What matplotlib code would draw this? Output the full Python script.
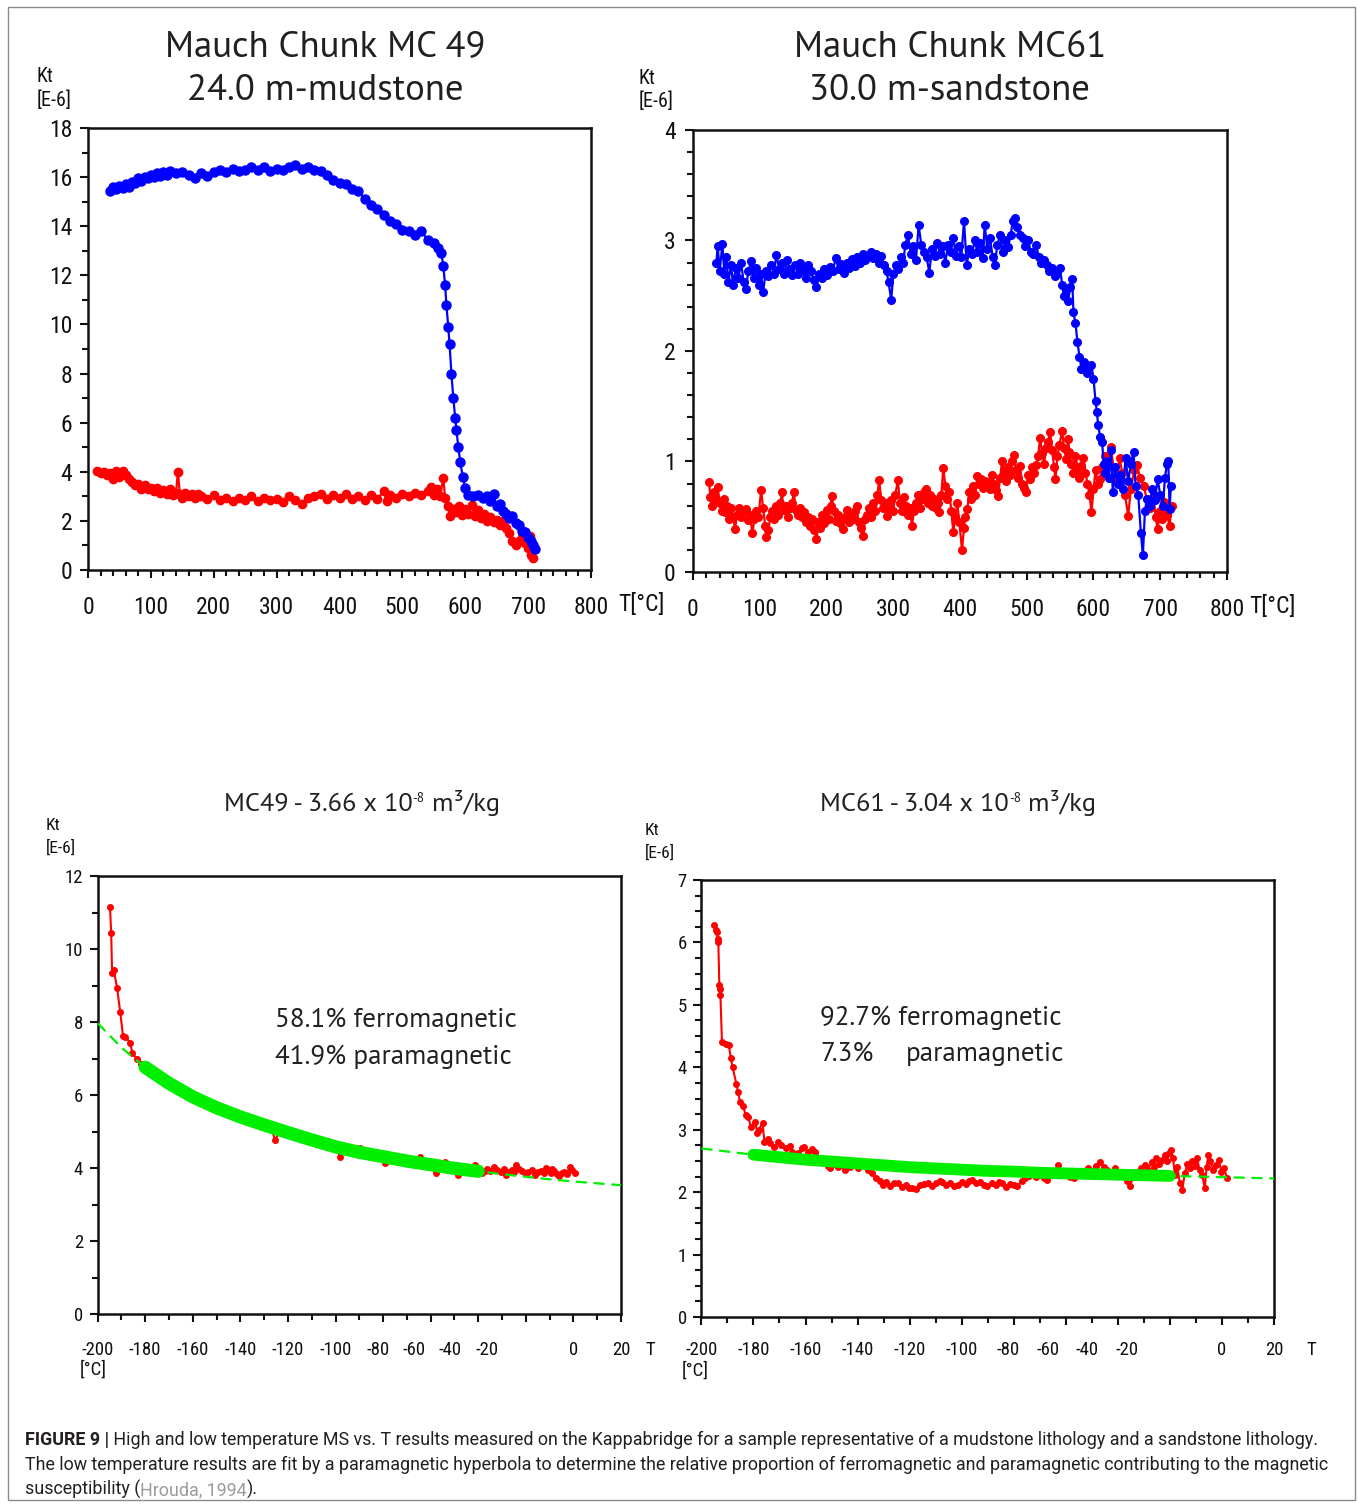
import numpy as np
import matplotlib
matplotlib.use("Agg")
import matplotlib.pyplot as plt
import matplotlib.transforms as mtransforms
from matplotlib.ticker import MultipleLocator, NullFormatter
from matplotlib.patches import Rectangle

# ---- high temperature runs (T in degC, Kt in E-6) ----
MC49_HEATING = [
    (35, 15.45), (40, 15.6), (45, 15.5), (50, 15.65), (55, 15.55), (60, 15.7), (65, 15.6), (70, 15.8),
    (75, 15.75), (80, 15.95), (85, 15.85), (90, 16.0), (95, 15.95), (100, 16.1), (105, 16.0), (110, 16.15),
    (115, 16.05), (120, 16.2), (125, 16.1), (130, 16.25), (140, 16.15), (150, 16.2), (160, 16.1), (170, 15.95),
    (180, 16.15), (190, 16.05), (200, 16.2), (210, 16.3), (220, 16.2), (230, 16.35), (240, 16.25), (250, 16.3),
    (260, 16.4), (270, 16.3), (280, 16.4), (290, 16.25), (300, 16.35), (310, 16.3), (320, 16.4), (330, 16.5),
    (340, 16.35), (350, 16.4), (360, 16.3), (370, 16.25), (380, 16.1), (390, 15.9), (400, 15.75), (410, 15.7),
    (420, 15.5), (430, 15.45), (440, 15.1), (450, 14.85), (460, 14.7), (470, 14.45), (480, 14.2), (490, 14.1),
    (500, 13.85), (510, 13.8), (520, 13.65), (530, 13.8), (540, 13.45), (550, 13.3), (556, 13.1), (562, 12.9),
    (565, 12.4), (568, 11.6), (570, 10.8), (573, 9.9), (575, 9.2), (578, 8.0), (581, 7.0), (584, 6.2),
    (586, 5.7), (589, 5.0), (592, 4.4), (596, 3.8), (600, 3.35), (605, 3.05), (612, 3.0), (620, 3.05),
    (628, 2.95), (635, 3.0), (640, 2.8), (645, 3.1), (650, 2.6), (655, 2.7), (660, 2.4), (665, 2.3),
    (670, 2.1), (675, 2.2), (680, 1.9), (685, 1.85), (690, 1.6), (695, 1.55), (700, 1.35), (705, 1.2),
    (708, 1.0), (711, 0.85),
]
MC49_COOLING = [
    (15, 4.05), (20, 3.95), (25, 4.0), (30, 3.85), (35, 3.95), (40, 3.7), (45, 4.05), (50, 3.8), (55, 4.05),
    (60, 3.85), (65, 3.7), (70, 3.6), (75, 3.45), (80, 3.5), (85, 3.3), (90, 3.45), (95, 3.3), (100, 3.35),
    (105, 3.2), (110, 3.35), (115, 3.15), (120, 3.25), (125, 3.1), (130, 3.3), (135, 3.05), (140, 3.15),
    (143, 4.0), (146, 3.1), (150, 2.95), (155, 3.15), (160, 3.0), (165, 3.1), (170, 2.95), (175, 3.1),
    (180, 3.0), (190, 2.9), (200, 3.05), (210, 2.85), (220, 2.95), (230, 2.8), (240, 2.95), (250, 2.85),
    (260, 3.0), (270, 2.8), (280, 2.95), (290, 2.85), (300, 2.9), (310, 2.75), (320, 3.0), (330, 2.85),
    (340, 2.7), (350, 2.95), (360, 3.0), (370, 3.1), (380, 2.9), (390, 3.05), (400, 2.95), (410, 3.1),
    (420, 2.9), (430, 3.0), (440, 2.85), (450, 3.05), (460, 2.9), (470, 3.2), (475, 2.8), (480, 3.05),
    (490, 2.95), (500, 3.1), (510, 3.0), (520, 3.15), (530, 3.05), (540, 3.2), (545, 3.4), (550, 3.05),
    (555, 3.3), (560, 3.0), (565, 3.75), (568, 2.95), (572, 2.6), (576, 2.2), (580, 2.5), (585, 2.35),
    (590, 2.6), (595, 2.25), (600, 2.5), (605, 2.3), (610, 2.65), (615, 2.2), (620, 2.45), (625, 2.1),
    (630, 2.3), (635, 2.0), (640, 2.15), (645, 1.95), (650, 2.05), (655, 1.85), (660, 2.0), (665, 1.7),
    (670, 1.5), (675, 1.2), (680, 1.0), (685, 1.2), (690, 1.35), (695, 1.1), (700, 0.9), (703, 1.4),
    (705, 0.6), (707, 0.5),
]
MC61_HEATING = [
    (35, 2.80), (37, 2.95), (40, 2.72), (44, 2.97), (47, 2.70), (50, 2.85), (53, 2.62), (57, 2.78),
    (60, 2.60), (64, 2.75), (68, 2.66), (72, 2.80), (76, 2.62), (79, 2.56), (83, 2.72), (87, 2.81),
    (91, 2.66), (95, 2.75), (99, 2.60), (102, 2.70), (105, 2.53), (109, 2.72), (113, 2.68), (117, 2.78),
    (121, 2.70), (125, 2.87), (129, 2.74), (133, 2.80), (137, 2.70), (141, 2.82), (145, 2.74), (149, 2.69),
    (153, 2.78), (157, 2.70), (161, 2.80), (165, 2.73), (169, 2.66), (173, 2.78), (177, 2.72), (181, 2.64),
    (185, 2.58), (189, 2.70), (193, 2.66), (197, 2.74), (201, 2.69), (205, 2.76), (209, 2.72), (214, 2.84),
    (218, 2.74), (222, 2.79), (226, 2.71), (230, 2.80), (234, 2.75), (238, 2.83), (242, 2.77), (246, 2.85),
    (250, 2.80), (254, 2.88), (258, 2.82), (262, 2.86), (266, 2.90), (270, 2.84), (274, 2.88), (278, 2.80),
    (282, 2.86), (286, 2.78), (290, 2.72), (293, 2.62), (297, 2.46), (300, 2.70), (304, 2.78), (307, 2.74),
    (311, 2.85), (315, 2.80), (318, 2.96), (322, 3.05), (326, 2.88), (330, 2.95), (334, 2.82), (338, 3.14),
    (342, 2.96), (346, 2.90), (350, 2.85), (354, 2.71), (358, 2.92), (362, 2.86), (366, 2.98), (370, 2.88),
    (374, 2.95), (378, 2.80), (382, 2.96), (386, 2.90), (390, 3.02), (394, 2.86), (398, 2.95), (402, 2.85),
    (406, 3.18), (410, 2.78), (414, 2.92), (418, 2.88), (422, 3.00), (426, 2.90), (430, 2.98), (434, 2.84),
    (437, 3.14), (441, 2.92), (445, 3.02), (449, 2.85), (452, 2.78), (456, 2.96), (460, 3.05), (464, 2.90),
    (468, 3.00), (472, 2.94), (476, 3.05), (479, 3.18), (482, 3.20), (486, 3.12), (490, 3.05), (494, 3.02),
    (498, 2.95), (502, 3.00), (506, 2.90), (510, 2.88), (514, 2.96), (518, 2.85), (522, 2.80), (526, 2.82),
    (530, 2.78), (534, 2.72), (538, 2.75), (542, 2.68), (546, 2.72), (550, 2.75), (553, 2.60), (556, 2.50),
    (559, 2.55), (562, 2.45), (565, 2.58), (568, 2.65), (570, 2.35), (573, 2.25), (576, 2.08), (579, 1.95),
    (582, 1.84), (586, 1.90), (590, 1.80), (594, 1.86), (597, 1.87), (600, 1.75), (603, 1.55), (605, 1.45),
    (607, 1.33), (610, 1.22), (613, 1.18), (615, 0.98), (617, 0.90), (620, 1.00), (623, 0.85), (626, 1.10),
    (629, 0.72), (632, 0.95), (636, 0.80), (640, 0.88), (644, 0.75), (648, 1.03), (652, 0.82), (656, 0.98),
    (660, 1.09), (663, 0.78), (667, 0.70), (671, 0.35), (674, 0.15), (677, 0.55), (680, 0.66), (684, 0.60),
    (688, 0.75), (692, 0.65), (696, 0.84), (700, 0.70), (704, 0.60), (707, 0.85), (710, 0.98), (712, 1.00),
    (714, 0.57), (716, 0.78),
]
MC61_COOLING = [
    (24, 0.81), (26, 0.68), (28, 0.60), (31, 0.72), (34, 0.66), (37, 0.77), (40, 0.62), (43, 0.55),
    (46, 0.66), (48, 0.54), (51, 0.60), (54, 0.48), (57, 0.58), (60, 0.50), (63, 0.39), (66, 0.52),
    (69, 0.58), (72, 0.50), (75, 0.55), (79, 0.57), (82, 0.47), (85, 0.52), (89, 0.35), (92, 0.48),
    (95, 0.55), (98, 0.50), (102, 0.74), (105, 0.58), (108, 0.42), (110, 0.32), (113, 0.38), (116, 0.50),
    (119, 0.55), (122, 0.48), (125, 0.60), (128, 0.52), (131, 0.62), (133, 0.72), (136, 0.56), (139, 0.60),
    (142, 0.50), (145, 0.58), (148, 0.62), (151, 0.72), (154, 0.56), (157, 0.52), (160, 0.58), (163, 0.50),
    (167, 0.54), (170, 0.45), (173, 0.50), (176, 0.42), (179, 0.48), (182, 0.38), (185, 0.30), (188, 0.45),
    (191, 0.40), (194, 0.52), (197, 0.44), (200, 0.56), (203, 0.48), (206, 0.60), (208, 0.69), (211, 0.55),
    (214, 0.46), (217, 0.52), (220, 0.44), (224, 0.39), (227, 0.50), (230, 0.56), (233, 0.45), (236, 0.52),
    (239, 0.48), (242, 0.55), (245, 0.60), (248, 0.45), (251, 0.40), (255, 0.33), (258, 0.48), (261, 0.52),
    (264, 0.58), (267, 0.50), (270, 0.62), (273, 0.55), (276, 0.70), (279, 0.83), (282, 0.65), (285, 0.58),
    (288, 0.62), (291, 0.51), (294, 0.58), (297, 0.65), (300, 0.55), (303, 0.70), (307, 0.83), (310, 0.62),
    (313, 0.55), (316, 0.68), (319, 0.60), (322, 0.52), (325, 0.58), (328, 0.42), (331, 0.55), (334, 0.62),
    (337, 0.70), (340, 0.58), (343, 0.66), (346, 0.72), (349, 0.75), (352, 0.62), (355, 0.70), (358, 0.60),
    (361, 0.66), (364, 0.58), (367, 0.62), (369, 0.54), (372, 0.70), (375, 0.94), (378, 0.78), (381, 0.66),
    (384, 0.72), (387, 0.55), (390, 0.36), (393, 0.50), (396, 0.62), (399, 0.45), (403, 0.20), (406, 0.40),
    (408, 0.50), (411, 0.57), (414, 0.72), (417, 0.66), (420, 0.78), (423, 0.70), (426, 0.87), (429, 0.80),
    (432, 0.84), (435, 0.76), (438, 0.82), (442, 0.81), (445, 0.75), (448, 0.88), (451, 0.80), (454, 0.74),
    (457, 0.69), (460, 0.85), (463, 1.00), (466, 0.90), (469, 0.82), (472, 0.95), (475, 0.88), (478, 1.00),
    (481, 1.06), (484, 0.92), (487, 0.85), (490, 0.96), (493, 0.80), (496, 0.76), (499, 0.72), (502, 0.88),
    (505, 0.84), (508, 0.95), (511, 0.90), (514, 0.97), (517, 1.05), (520, 1.21), (523, 1.08), (526, 0.98),
    (529, 1.12), (532, 1.18), (535, 1.27), (538, 1.10), (541, 0.95), (543, 0.84), (546, 1.05), (549, 1.15),
    (553, 1.28), (556, 1.12), (559, 1.02), (562, 1.20), (564, 1.09), (567, 0.98), (570, 0.90), (573, 1.05),
    (576, 0.95), (579, 0.85), (582, 0.96), (585, 1.03), (588, 0.90), (591, 0.80), (594, 0.70), (597, 0.54),
    (600, 0.75), (603, 0.92), (606, 0.80), (610, 0.84), (613, 0.95), (617, 1.05), (621, 0.98), (626, 1.13),
    (630, 0.95), (634, 0.82), (639, 1.03), (643, 0.90), (647, 0.70), (652, 0.51), (656, 0.75), (661, 0.92),
    (665, 0.97), (670, 0.85), (675, 0.78), (680, 0.66), (685, 0.58), (690, 0.70), (693, 0.50), (696, 0.39),
    (700, 0.55), (703, 0.48), (706, 0.63), (710, 0.52), (714, 0.42), (717, 0.60),
]

# ---- low temperature runs ----
MC49_LOW = [
    (-194.8, 11.16), (-194.3, 10.45), (-193.9, 9.33), (-193.2, 9.42), (-191.8, 8.93), (-190.5, 8.27),
    (-189.3, 7.62), (-188.3, 7.60), (-186.2, 7.42), (-185.4, 7.14), (-183.5, 7.00), (-181.6, 6.86),
    (-179, 6.70), (-176, 6.62), (-173, 6.45), (-170, 6.28), (-167.5, 6.22), (-165, 6.08), (-162.6, 5.98),
    (-160, 5.90), (-157.5, 5.86), (-155, 5.78), (-152.5, 5.70), (-150, 5.62), (-147.5, 5.60), (-145, 5.48),
    (-142, 5.46), (-139, 5.45), (-136, 5.30), (-132.7, 5.27), (-129.5, 5.16), (-127, 5.12), (-125.5, 4.77),
    (-123, 5.02), (-120, 4.98), (-116.8, 4.95), (-114, 4.84), (-111, 4.80), (-108, 4.72), (-105, 4.64),
    (-102, 4.55), (-99.5, 4.48), (-98, 4.31), (-96, 4.50), (-93, 4.45), (-89.5, 4.54), (-87, 4.40),
    (-84, 4.36), (-81.5, 4.30), (-79.4, 4.13), (-77, 4.25), (-74, 4.22), (-71, 4.20), (-68, 4.15),
    (-66, 4.20), (-64.3, 4.31), (-62, 4.12), (-60, 4.05), (-57.8, 3.86), (-55.5, 4.06), (-54, 4.17),
    (-51, 3.98), (-48.4, 3.81), (-46, 3.96), (-44, 3.98), (-41.2, 4.08), (-39.5, 3.92), (-38.5, 3.85),
    (-37, 3.93), (-36.2, 3.97), (-35, 3.92), (-33.3, 4.04), (-32, 3.95), (-30.5, 3.90), (-29.3, 3.96),
    (-28.3, 3.81), (-27, 3.90), (-26, 3.95), (-25, 3.88), (-24, 4.08), (-23, 3.97), (-21.5, 3.92),
    (-20.2, 3.86), (-19, 3.90), (-17.5, 3.95), (-16, 3.81), (-14.8, 3.88), (-13.5, 3.92), (-12.5, 3.85),
    (-11.7, 4.00), (-10.6, 3.94), (-9.6, 3.86), (-8.8, 3.97), (-8, 3.93), (-7, 3.84), (-6, 3.77),
    (-5, 3.86), (-3.8, 3.90), (-2.7, 3.84), (-1.6, 4.04), (-0.5, 3.95), (0.5, 3.86),
]
MC61_LOW = [
    (-195.0, 6.28), (-194.5, 6.20), (-194.1, 6.17), (-193.8, 6.05), (-193.5, 6.01), (-193.1, 5.32),
    (-192.9, 5.25), (-192.7, 5.16), (-192.1, 4.41), (-190.5, 4.38), (-189.5, 4.36), (-188.7, 4.15),
    (-188.0, 4.00), (-186.6, 3.74), (-185.9, 3.60), (-185.2, 3.45), (-184.0, 3.38), (-183.0, 3.24),
    (-182.0, 3.20), (-181.0, 3.05), (-179.4, 3.13), (-178.5, 2.95), (-177.9, 3.00), (-176.5, 3.11),
    (-175.8, 2.81), (-174.5, 2.85), (-173.6, 2.79), (-172, 2.72), (-170.5, 2.80), (-169.3, 2.76),
    (-167.5, 2.70), (-166, 2.74), (-165.0, 2.65), (-163, 2.62), (-161.5, 2.70), (-160.6, 2.73),
    (-159, 2.64), (-157.5, 2.69), (-156.2, 2.65), (-154.5, 2.55), (-153, 2.48), (-151.5, 2.42),
    (-150.7, 2.38), (-149, 2.45), (-147.5, 2.40), (-146, 2.43), (-145.0, 2.36), (-143, 2.41),
    (-141.5, 2.46), (-140, 2.39), (-138.5, 2.44), (-137.6, 2.49), (-136, 2.36), (-134.5, 2.30),
    (-133, 2.22), (-131.5, 2.18), (-130.4, 2.12), (-129, 2.16), (-127.5, 2.10), (-126, 2.14),
    (-124.6, 2.15), (-123, 2.09), (-121.5, 2.12), (-120.2, 2.06), (-118.9, 2.07), (-117.5, 2.05),
    (-116, 2.11), (-114.5, 2.13), (-113.1, 2.15), (-111.5, 2.10), (-110, 2.14), (-108.5, 2.18),
    (-107.4, 2.17), (-106, 2.12), (-104.5, 2.15), (-103, 2.10), (-101.6, 2.12), (-100, 2.17),
    (-98.5, 2.13), (-97, 2.18), (-95.9, 2.20), (-94.5, 2.14), (-93, 2.16), (-91.5, 2.12),
    (-90.1, 2.10), (-88.5, 2.15), (-87, 2.11), (-85.5, 2.17), (-84.4, 2.15), (-83, 2.09),
    (-81.5, 2.13), (-80, 2.12), (-78.6, 2.10), (-77, 2.18), (-75.5, 2.22), (-74, 2.26),
    (-72.8, 2.30), (-71.5, 2.24), (-70, 2.27), (-68.5, 2.22), (-67.1, 2.20), (-65.5, 2.30),
    (-64, 2.34), (-62.8, 2.44), (-61.5, 2.32), (-60, 2.28), (-58.5, 2.25), (-57.0, 2.22),
    (-55.5, 2.30), (-54, 2.34), (-52.5, 2.31), (-51.3, 2.38), (-50, 2.34), (-48.5, 2.42),
    (-47.0, 2.49), (-45.5, 2.40), (-44, 2.36), (-42.6, 2.33), (-41, 2.38), (-39.5, 2.30),
    (-38, 2.26), (-36.5, 2.18), (-35.4, 2.10), (-34, 2.24), (-32.5, 2.32), (-31, 2.38),
    (-29.7, 2.44), (-28.5, 2.36), (-27, 2.48), (-26, 2.40), (-25.3, 2.54), (-24, 2.45),
    (-23, 2.52), (-22, 2.60), (-21, 2.50), (-20.3, 2.62), (-19.6, 2.68), (-18.8, 2.55),
    (-18.1, 2.28), (-17.2, 2.40), (-16.2, 2.15), (-15.2, 2.04), (-14.3, 2.30), (-13.3, 2.45),
    (-12.4, 2.38), (-11.4, 2.50), (-10.4, 2.42), (-9.5, 2.54), (-8.6, 2.35), (-7.6, 2.28),
    (-6.6, 2.06), (-5.9, 2.40), (-5.2, 2.60), (-4.4, 2.50), (-3.3, 2.35), (-2.3, 2.44),
    (-1.3, 2.52), (-0.2, 2.33), (0.8, 2.38), (2.0, 2.22),
]

# paramagnetic hyperbola fits
MC49_FIT = [
    (-200, 7.97), (-190, 7.30), (-180, 6.76), (-170, 6.32), (-160, 5.95), (-150, 5.65), (-140, 5.40),
    (-130, 5.18), (-120, 4.97), (-110, 4.77), (-100, 4.58), (-90, 4.43), (-80, 4.31), (-70, 4.19),
    (-60, 4.09), (-50, 3.99), (-40, 3.91), (-30, 3.83), (-20, 3.76), (-10, 3.69), (0, 3.63), (10, 3.58),
    (20, 3.53),
]
MC61_FIT = [
    (-200, 2.70), (-190, 2.65), (-180, 2.60), (-170, 2.56), (-160, 2.52), (-150, 2.49), (-140, 2.46),
    (-130, 2.43), (-120, 2.40), (-110, 2.38), (-100, 2.36), (-90, 2.34), (-80, 2.33), (-70, 2.31),
    (-60, 2.30), (-50, 2.29), (-40, 2.28), (-30, 2.27), (-20, 2.26), (-10, 2.25), (0, 2.24), (10, 2.23),
    (20, 2.22),
]
MC49_FIT_RANGE = (-182, -38)
MC61_FIT_RANGE = (-182, -17)

LOW_TICK_TEXT = ["-200", "-180", "-160", "-140", "-120", "-100", "-80", "-60", "-40", "-20", "0", "20"]
LOW_TICK_TEXT_AT = [-200, -180, -160, -140, -120, -100, -82, -67, -52, -36.5, 0, 20]

RED, BLUE, GREEN = "#ff0000", "#0000ff", "#00ee00"
INK = "#231f20"
TITLE_FONT = ["PT Sans", "DejaVu Sans"]

plt.rcParams["font.family"] = ["Roboto Condensed", "DejaVu Sans"]
plt.rcParams["text.color"] = INK

W, H = 1358, 1504
fig = plt.figure(figsize=(W / 100, H / 100), dpi=100)
renderer = fig.canvas.get_renderer()


def fx(x):
    return x / W


def fy(y):
    return 1 - y / H


def panel(left, top, right, bottom):
    return fig.add_axes([fx(left), fy(bottom), (right - left) / W, (bottom - top) / H])


def frame(ax, xlim, ylim, xmaj, xmin, ymaj, ymin, size, xpad, ypad):
    ax.set_xlim(*xlim)
    ax.set_ylim(*ylim)
    ax.xaxis.set_major_locator(MultipleLocator(xmaj))
    ax.xaxis.set_minor_locator(MultipleLocator(xmin))
    ax.yaxis.set_major_locator(MultipleLocator(ymaj))
    ax.yaxis.set_minor_locator(MultipleLocator(ymin))
    for sp in ax.spines.values():
        sp.set_linewidth(1.8)
        sp.set_color("#111111")
    ax.tick_params(which="both", direction="out", width=1.5, color="#111111",
                   top=False, right=False, labelsize=size, labelcolor="#111111")
    ax.tick_params(which="major", length=6)
    ax.tick_params(which="minor", length=4.5)
    ax.tick_params(axis="x", pad=xpad)
    ax.tick_params(axis="y", pad=ypad)


def unit_label(x, y, size):
    fig.text(fx(x), fy(y), "Kt", fontsize=size, ha="left", va="center", color="#111111")
    fig.text(fx(x), fy(y + 23), "[E-6]", fontsize=size, ha="left", va="center", color="#111111")


def series(ax, pairs, color, lw, ms):
    arr = np.array(pairs)
    ax.plot(arr[:, 0], arr[:, 1], color=color, lw=lw, marker="o", ms=ms, mec=color, mfc=color)


def fit_curve(ax, pairs, band, band_lw):
    arr = np.array(pairs)
    sel = (arr[:, 0] >= band[0]) & (arr[:, 0] <= band[1])
    ax.plot(arr[sel, 0], arr[sel, 1], color=GREEN, lw=band_lw, solid_capstyle="round", zorder=3)
    ax.plot(arr[:, 0], arr[:, 1], color=GREEN, lw=1.6, ls=(0, (5, 3)), zorder=4)


def low_ticks(ax, y_px, size):
    ax.xaxis.set_major_formatter(NullFormatter())
    tr = mtransforms.blended_transform_factory(ax.transData, fig.transFigure)
    for xv, s in zip(LOW_TICK_TEXT_AT, LOW_TICK_TEXT):
        ax.text(xv, fy(y_px), s, transform=tr, ha="center", va="center", fontsize=size,
                color="#111111", clip_on=False)


def title(x, y, s, size):
    fig.text(fx(x), fy(y), s, fontsize=size, ha="center", va="baseline", family=TITLE_FONT)


def run_of_text(x, y, pieces, size, family, **kw):
    """Left-aligned pieces on one baseline; each piece is (text, scale, rise_px, extra)."""
    made = []
    for txt, scale, rise, extra in pieces:
        t = fig.text(fx(x), fy(y - rise), txt, fontsize=size * scale, ha="left", va="baseline",
                     family=family, **kw, **extra)
        made.append(t)
        x = t.get_window_extent(renderer=renderer).x1
    return made, x


def susceptibility_title(x, y, head):
    run_of_text(x, y, [(head + " x 10", 1, 0, {}), ("-8", 0.5, 9, {}), (" m³/kg", 1, 0, {})],
                19, TITLE_FONT)


# ---- Mauch Chunk MC 49, high temperature ----
ax1 = panel(88, 128, 591, 570)
frame(ax1, (0, 800), (0, 18), 100, 20, 2, 1, 17, 12.5, 5.5)
series(ax1, MC49_COOLING, RED, 1.6, 6.0)
series(ax1, MC49_HEATING, BLUE, 1.6, 6.5)
fig.text(fx(618), fy(604), "T[°C]", fontsize=17, ha="left", va="center", color="#111111")
unit_label(37, 77, 14.5)
title(325, 57, "Mauch Chunk MC 49", 26.5)
title(325, 100, "24.0 m-mudstone", 26.5)

# ---- Mauch Chunk MC61, high temperature ----
ax2 = panel(693, 130, 1227, 572)
frame(ax2, (0, 800), (0, 4), 100, 20, 1, 0.2, 17, 12.5, 6.5)
series(ax2, MC61_COOLING, RED, 1.6, 5.5)
series(ax2, MC61_HEATING, BLUE, 1.6, 5.5)
fig.text(fx(1249), fy(606), "T[°C]", fontsize=17, ha="left", va="center", color="#111111")
unit_label(639, 78, 14.5)
title(950, 57, "Mauch Chunk MC61", 26.5)
title(949, 100, "30.0 m-sandstone", 26.5)

# ---- MC49, low temperature with hyperbola fit ----
ax3 = panel(97.6, 876, 621, 1314)
frame(ax3, (-200, 20), (0, 12), 20, 10, 2, 1, 13.5, 12, 4.5)
series(ax3, MC49_LOW, RED, 1.5, 4.0)
fit_curve(ax3, MC49_FIT, MC49_FIT_RANGE, 9.5)
low_ticks(ax3, 1350, 13.5)
fig.text(fx(650), fy(1350), "T", fontsize=13.5, ha="center", va="center", color="#111111")
fig.text(fx(80), fy(1370), "[°C]", fontsize=13.5, ha="left", va="center", color="#111111")
unit_label(46, 825, 12.5)
susceptibility_title(224, 811, "MC49 - 3.66")
fig.text(fx(275), fy(1027), "58.1% ferromagnetic", fontsize=19.5, ha="left", va="baseline", family=TITLE_FONT)
fig.text(fx(275), fy(1064), "41.9% paramagnetic", fontsize=19.5, ha="left", va="baseline", family=TITLE_FONT)

# ---- MC61, low temperature with hyperbola fit ----
ax4 = panel(701.4, 880, 1274, 1317)
frame(ax4, (-200, 20), (0, 7), 20, 10, 1, 0.25, 13.5, 12, 4.5)
series(ax4, MC61_LOW, RED, 1.5, 4.0)
fit_curve(ax4, MC61_FIT, MC61_FIT_RANGE, 8.5)
low_ticks(ax4, 1350, 13.5)
fig.text(fx(1311), fy(1350), "T", fontsize=13.5, ha="center", va="center", color="#111111")
fig.text(fx(682), fy(1371), "[°C]", fontsize=13.5, ha="left", va="center", color="#111111")
unit_label(645, 830, 12.5)
susceptibility_title(820, 811, "MC61 - 3.04")
fig.text(fx(820), fy(1025), "92.7% ferromagnetic", fontsize=19.5, ha="left", va="baseline", family=TITLE_FONT)
fig.text(fx(820), fy(1061), "7.3%", fontsize=19.5, ha="left", va="baseline", family=TITLE_FONT)
fig.text(fx(906), fy(1061), "paramagnetic", fontsize=19.5, ha="left", va="baseline", family=TITLE_FONT)

# ---- caption ----
CAPTION_LEFT, CAPTION_RIGHT = 25, 1332
CAPTION = [
    (1445, [("FIGURE 9 |", 1, 0, {"weight": "bold"}),
            (" High and low temperature MS vs. T results measured on the Kappabridge for a sample "
             "representative of a mudstone lithology and a sandstone lithology.", 1, 0, {})]),
    (1470, [("The low temperature results are fit by a paramagnetic hyperbola to determine the relative "
             "proportion of ferromagnetic and paramagnetic contributing to the magnetic", 1, 0, {})]),
    (1495, [("susceptibility (", 1, 0, {}), ("Hrouda, 1994", 1, 0, {"color": "#9a9a9a"}), (").", 1, 0, {})]),
]

# size the caption so its longest line fills the text block
cap_size = 99.0
for y, parts in CAPTION[:2]:
    probe, end = run_of_text(CAPTION_LEFT, y, parts, 12.0, "Roboto")
    for t in probe:
        t.remove()
    cap_size = min(cap_size, 12.0 * (CAPTION_RIGHT - CAPTION_LEFT) / (end - CAPTION_LEFT))
for y, parts in CAPTION:
    run_of_text(CAPTION_LEFT, y, parts, cap_size, "Roboto")

fig.add_artist(Rectangle((fx(8), fy(1500)), (1355 - 8) / W, (1500 - 7) / H, transform=fig.transFigure,
                         fill=False, edgecolor="#8a8a8a", lw=1.0))

fig.savefig("out.png", dpi=100)
